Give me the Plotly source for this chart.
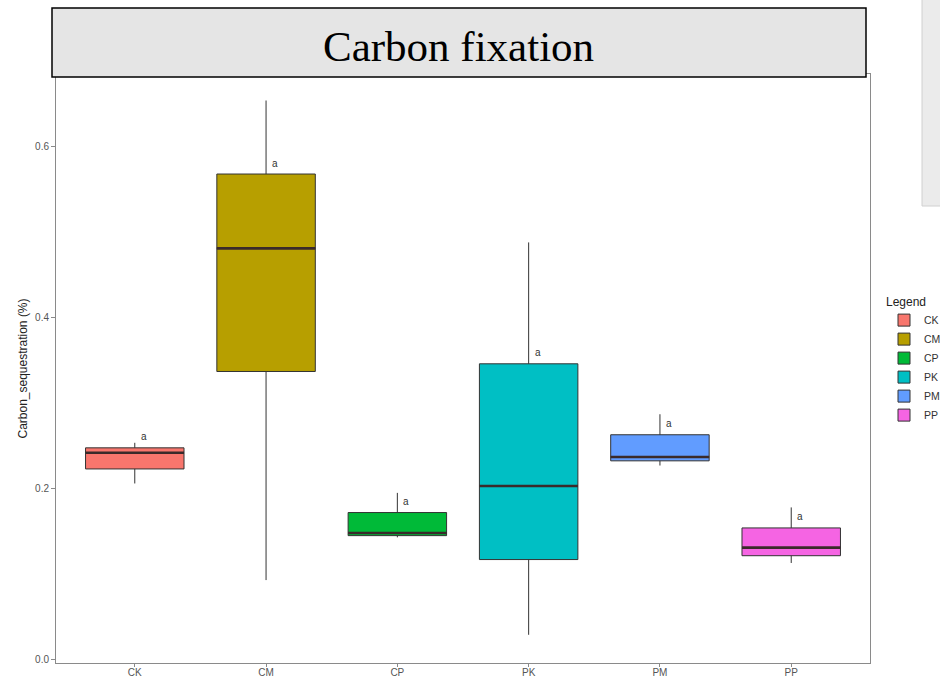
import plotly.graph_objects as go

# ---- data ----
groups = ["CK", "CM", "CP", "PK", "PM", "PP"]
lower = [0.206, 0.093, 0.143, 0.029, 0.227, 0.113]
q1 = [0.223, 0.337, 0.145, 0.117, 0.2325, 0.1215]
median = [0.242, 0.481, 0.148, 0.203, 0.237, 0.131]
q3 = [0.2477, 0.568, 0.172, 0.346, 0.263, 0.154]
upper = [0.2536, 0.654, 0.195, 0.488, 0.287, 0.178]
sig_labels = ["a", "a", "a", "a", "a", "a"]
colors = ["#F8766D", "#B79F00", "#00BA38", "#00BFC4", "#619CFF", "#F564E3"]
y_ticks = [0.0, 0.2, 0.4, 0.6]

W, H = 940, 678
L, R, T, B = 56, 70, 74, 15
pw, ph = W - L - R, H - T - B

def px_x(p):
    return (p - L) / pw

def px_y(p):
    return (H - B - p) / ph

fig = go.Figure()
box_w = 0.75
for i, g in enumerate(groups):
    fig.add_trace(go.Box(
        x=[i], q1=[q1[i]], median=[median[i]], q3=[q3[i]],
        lowerfence=[lower[i]], upperfence=[upper[i]],
        name=g, fillcolor=colors[i],
        line=dict(color="#333333", width=1),
        whiskerwidth=0, width=box_w, boxpoints=False,
        hoverinfo="skip",
    ))

# thick median lines (ggplot style)
for i, g in enumerate(groups):
    fig.add_trace(go.Scatter(
        x=[i - box_w / 2, i + box_w / 2], y=[median[i], median[i]],
        mode="lines", line=dict(color="#3a2a2a", width=2.6),
        showlegend=False, hoverinfo="skip",
    ))

annotations = []
for i, g in enumerate(groups):
    annotations.append(dict(
        x=i, y=q3[i], xref="x", yref="y", text=sig_labels[i],
        showarrow=False, xshift=9, yshift=11,
        font=dict(family="Liberation Sans, Arial", size=10, color="#333333"),
    ))

annotations.append(dict(
    x=(px_x(52) + px_x(866)) / 2, y=px_y(47), xref="paper", yref="paper",
    text="Carbon fixation", showarrow=False,
    font=dict(family="Liberation Serif, Times New Roman", size=43, color="#000000"),
    xanchor="center", yanchor="middle",
))

shapes = [
    dict(type="rect", xref="paper", yref="paper",
         x0=px_x(52), x1=px_x(866), y0=px_y(77), y1=px_y(8),
         fillcolor="#e5e5e5", line=dict(color="#000000", width=1.5), layer="above"),
    dict(type="rect", xref="paper", yref="paper",
         x0=px_x(922), x1=px_x(941), y0=px_y(206), y1=px_y(-2),
         fillcolor="#ebebeb", line=dict(color="#d0d0d0", width=1), layer="above"),
]

fig.update_layout(
    width=W, height=H,
    margin=dict(l=L, r=R, t=T, b=B, pad=0, autoexpand=False),
    paper_bgcolor="white", plot_bgcolor="white",
    showlegend=True,
    legend=dict(
        title=dict(text="Legend", font=dict(family="Liberation Sans, Arial", size=12, color="#222222")),
        x=px_x(884), y=px_y(290), xanchor="left", yanchor="top",
        font=dict(family="Liberation Sans, Arial", size=10.5, color="#333333"),
        tracegroupgap=0, itemwidth=30,
    ),
    annotations=annotations,
    shapes=shapes,
    font=dict(family="Liberation Sans, Arial"),
)

fig.update_xaxes(
    range=[-0.6, 5.6], tickmode="array", tickvals=list(range(len(groups))), ticktext=groups,
    showgrid=False, zeroline=False, showline=True, linecolor="#8a8a8a", linewidth=1,
    mirror=True, ticks="outside", ticklen=3, tickcolor="#8a8a8a",
    tickfont=dict(size=10, color="#555555"), automargin=False, ticklabelstandoff=-3,
)
fig.update_yaxes(
    range=[-0.004, 0.685], tickvals=y_ticks, ticktext=[f"{v:.1f}" for v in y_ticks],
    showgrid=False, zeroline=False, showline=True, linecolor="#8a8a8a", linewidth=1,
    mirror=True, ticks="outside", ticklen=4, tickcolor="#8a8a8a",
    tickfont=dict(size=10, color="#555555"), automargin=False,
    title=dict(text="Carbon_sequestration (%)", font=dict(size=12, color="#222222"), standoff=4),
)

fig.write_html(
    "out.html",
    config={"displayModeBar": False},
    post_script="document.body.style.margin='0';document.body.style.overflow='hidden';",
)
